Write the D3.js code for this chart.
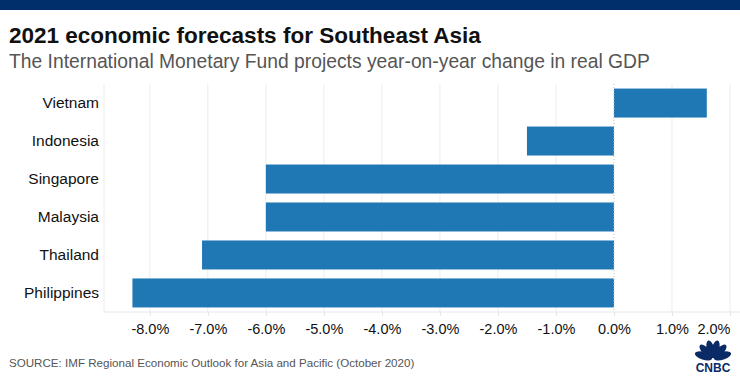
<!DOCTYPE html>
<html><head><meta charset="utf-8">
<script src="https://cdn.jsdelivr.net/npm/d3@7"></script>
<style>body{margin:0;background:#fff;}svg{display:block;font-family:"Liberation Sans",Arial,sans-serif;}</style>
</head><body>
<svg id="c" width="740" height="379"></svg>
<script>
const countries = ["Vietnam","Indonesia","Singapore","Malaysia","Thailand","Philippines"];
const gdpChange = [1.6,-1.5,-6.0,-6.0,-7.1,-8.3];
const tickValues = [-8,-7,-6,-5,-4,-3,-2,-1,0,1,2];
const titleText = "2021 economic forecasts for Southeast Asia";
const subtitleText = "The International Monetary Fund projects year-on-year change in real GDP";
const sourceText = "SOURCE: IMF Regional Economic Outlook for Asia and Pacific (October 2020)";

const svg = d3.select("#c");
svg.append("rect").attr("x",0).attr("y",0).attr("width",740).attr("height",10).attr("fill","#002f6c");
svg.append("text").attr("x",9).attr("y",43).attr("font-size",22.5).attr("font-weight","bold").attr("fill","#111").text(titleText);
svg.append("text").attr("x",9).attr("y",68).attr("font-size",19.3).attr("fill","#555").text(subtitleText);

const x = d3.scaleLinear().domain([-8.79,2.0]).range([104,730]);
const y = d3.scaleBand().domain(countries).range([84,312]).paddingInner(0.237).paddingOuter(0.12);

const g = svg.append("g");
g.selectAll(".grid").data(tickValues.filter(d=>d!==0)).join("line")
 .attr("x1",d=>x(d)).attr("x2",d=>x(d)).attr("y1",84).attr("y2",312)
 .attr("stroke","#ececec").attr("stroke-width",1);
g.append("line").attr("x1",104).attr("x2",104).attr("y1",84).attr("y2",312).attr("stroke","#ececec");
g.selectAll(".bar").data(countries).join("rect")
 .attr("x",(d,i)=>x(Math.min(0,gdpChange[i])))
 .attr("width",(d,i)=>Math.abs(x(gdpChange[i])-x(0)))
 .attr("y",d=>y(d)).attr("height",y.bandwidth())
 .attr("fill","#1f77b4");
g.append("line").attr("x1",x(0)).attr("x2",x(0)).attr("y1",84).attr("y2",312)
 .attr("stroke","#bbb").attr("stroke-dasharray","1,2");

const xAxis = d3.axisBottom(x).tickValues(tickValues).tickSize(4).tickPadding(8)
 .tickFormat(d=>d3.format(".1f")(d).replace("\u2212","-")+"%");
const ax = svg.append("g").attr("transform","translate(0,312)").call(xAxis);
ax.select(".domain").attr("d","M104,0H740").attr("stroke","#e6e6e6");
ax.selectAll(".tick line").attr("stroke","#e6e6e6");
ax.selectAll(".tick text").attr("font-size",14.5).attr("fill","#111").attr("font-family","Liberation Sans, Arial, sans-serif");
ax.selectAll(".tick").filter(d=>d===tickValues[tickValues.length-1]).select("text").attr("text-anchor","end").attr("dx",0);

const yAxis = d3.axisLeft(y).tickSize(0).tickPadding(0);
const ay = svg.append("g").attr("transform","translate(99,0)").call(yAxis);
ay.select(".domain").remove();
ay.selectAll(".tick text").attr("font-size",15.5).attr("fill","#111").attr("font-family","Liberation Sans, Arial, sans-serif");

svg.append("text").attr("x",9).attr("y",367).attr("font-size",11.6).attr("fill","#555").text(sourceText);

const logo = svg.append("g").attr("transform","translate(713,359)").attr("fill","#0a2b66");
[-72,-43,-14,14,43,72].forEach(a=>{
  logo.append("ellipse").attr("cx",0).attr("cy",-10).attr("rx",3.8).attr("ry",9)
   .attr("transform",`rotate(${a})`);
});
logo.append("text").attr("x",0).attr("y",13).attr("text-anchor","middle").attr("font-size",12)
 .attr("font-weight","bold").attr("font-family","Liberation Sans, Arial, sans-serif").text("CNBC");
</script>
</body></html>
